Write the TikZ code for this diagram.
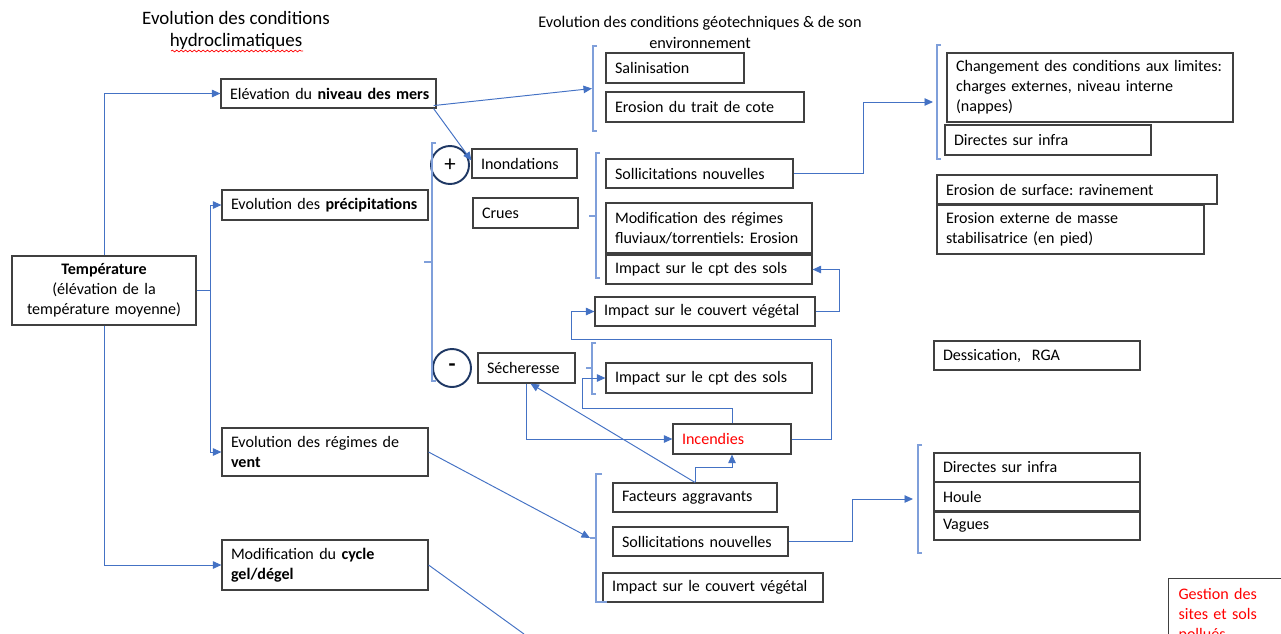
\documentclass[tikz,border=0pt]{standalone}
\usepackage{fontspec}
\setmainfont{Carlito}
\usetikzlibrary{arrows.meta,calc,decorations.pathmorphing}
\definecolor{cblue}{HTML}{4472C4}
\definecolor{cbrk}{HTML}{7F9FDA}
\definecolor{cbord}{HTML}{404040}
\definecolor{cnavy}{HTML}{1F3864}
\definecolor{cred}{HTML}{FF0000}
\frenchspacing
\newcommand\bodyfont{\fontsize{9.15}{11.3}\selectfont}
\tikzset{
 box/.style={draw=cbord, line width=0.65pt, rectangle, inner xsep=0.2cm, inner ysep=0pt, align=left, font=\bodyfont},
 link/.style={draw=cblue, line width=0.55pt},
 arr/.style={link, -{Triangle[length=0.17cm,width=0.15cm]}},
 brk/.style={draw=cbrk, line width=0.6pt},
 circ/.style={circle, draw=cnavy, line width=1.1pt, minimum size=0.76cm, inner sep=0pt, font=\fontsize{13}{13}\selectfont},
}
\newcommand\mybox[7][]{%
 \pgfmathsetmacro\mybw{(#4-#3)*0.02}%
 \pgfmathsetmacro\mybh{(#6-#5)*0.02}%
 \pgfmathsetmacro\mytw{(#4-#3-18)*0.02}%
 \node[box,inner xsep=0.18cm,minimum width=\mybw cm,minimum height=\mybh cm,text width=\mytw cm,#1] (#2) at ({(#3+#4)/2},{(#5+#6)/2}) {#7};}
\begin{document}
\begin{tikzpicture}[x=0.02cm,y=-0.02cm]
\useasboundingbox (0,0) rectangle (1281,633);
\begin{scope}
\clip (0,0) rectangle (1281,633);
% titles
\node[font=\fontsize{10.8}{13}\selectfont, align=center] (t1) at (236,30.5) {Evolution des conditions\\hydroclimatiques};
\draw[cred, line width=0.4pt, decorate, decoration={snake, amplitude=0.5pt, segment length=2.5pt}] (171,51) -- (303,51);
\node[font=\fontsize{9.25}{11.9}\selectfont, align=center] (t2) at (700,32.5) {Evolution des conditions géotechniques \& de son\\environnement};
% left column
\mybox[align=center]{temp}{12}{196}{256}{325}{\textbf{Température}\\(élévation de la\\température moyenne)}
\mybox{elev}{221}{436}{79}{108}{\mbox{Elévation du \textbf{niveau des mers}}}
\mybox{prec}{222}{428}{190}{220}{\mbox{Evolution des \textbf{précipitations}}}
\mybox{vent}{222}{428}{428}{476}{Evolution des régimes de\\\textbf{vent}}
\mybox{gel}{222}{428}{540}{590}{Modification du \textbf{cycle}\\\textbf{gel/dégel}}
% middle
\mybox{sal}{606}{744}{53}{83}{Salinisation}
\mybox{ero}{606}{804}{92}{122}{Erosion du trait de cote}
\mybox{inond}{472}{577}{149}{178}{Inondations}
\mybox{crues}{473}{578}{198}{228}{Crues}
\mybox{sech}{478}{575}{353}{383}{Sécheresse}
\mybox{solla}{606}{793}{159}{188}{Sollicitations nouvelles}
\mybox{modif}{606}{812}{203}{253}{Modification des régimes\\\mbox{fluviaux/torrentiels: Erosion}}
\mybox{cpta}{606}{812}{255}{284}{Impact sur le cpt des sols}
\mybox{couva}{595}{815}{297}{326}{Impact sur le couvert végétal}
\mybox{cptb}{606}{812}{363}{393}{Impact sur le cpt des sols}
\mybox[text=cred]{inc}{673}{791}{424}{454}{Incendies}
\mybox{fact}{613}{777}{483}{512}{Facteurs aggravants}
\mybox{sollb}{613}{788}{527}{556}{Sollicitations nouvelles}
\mybox{couvb}{603}{823}{573}{602}{Impact sur le couvert végétal}
% right
\mybox{chg}{947}{1233}{53}{122}{\mbox{Changement des conditions aux limites:}\\charges externes, niveau interne\\(nappes)}
\mybox{dira}{945}{1151}{125}{155}{Directes sur infra}
\mybox{surf}{937}{1217}{175}{204}{Erosion de surface: ravinement}
\mybox{ext}{937}{1204}{205}{254}{Erosion externe de masse\\stabilisatrice (en pied)}
\mybox{dess}{934}{1140}{341}{370}{Dessication,\ \ RGA}
\mybox{dirb}{934}{1140}{453}{482}{Directes sur infra}
\mybox{houle}{934}{1140}{482}{511}{Houle}
\mybox{vag}{934}{1140}{512}{540}{Vagues}
\node[box, text=cred, anchor=north west, text width=2.2cm, inner ysep=0.2cm] (gest) at (1168,578) {Gestion des\\sites et sols\\pollués};
% circles
\node[circ] (plus) at (450,165) {+};
\node[circ] (minus) at (452,368) {\textbf{-}};
% brackets
\draw[brk] (597,46) -- (593,46) -- (593,131) -- (597,131);
\coordinate (b1) at (592,88.5);
\draw[brk] (436,143) -- (432,143) -- (432,381) -- (436,381);
\draw[brk] (432,262) -- (424,262);
\draw[brk] (600,153) -- (596,153) -- (596,278) -- (600,278);
\draw[brk] (596,216) -- (589,216);
\draw[brk] (941,45) -- (937,45) -- (937,159) -- (941,159);
\coordinate (b3) at (933,102);
\draw[brk] (596,343) -- (592,343) -- (592,394) -- (596,394);
\draw[brk] (592,368) -- (586,368);
\draw[brk] (602,474) -- (596,474) -- (596,602) -- (607,602);
\draw[brk] (596,538) -- (590,538);
\coordinate (b5) at (590,538);
\draw[brk] (922,445) -- (918,445) -- (918,553) -- (922,553);
\coordinate (b6) at (913,499);
\coordinate (gelend) at (524,634);
% connectors
\draw[arr] (temp.north) |- (elev.west);
\coordinate (tj) at (210,290.5);
\draw[link] (temp.east) -- (tj);
\draw[link] (tj |- prec.west) -- (tj |- vent.west);
\draw[arr] (tj |- prec.west) -- (prec.west);
\draw[arr] (tj |- vent.west) -- (vent.west);
\draw[arr] (temp.south) |- (gel.west);
\draw[arr] ($(elev.south east)+(-3,-3)$) -- (b1);
\draw[arr] ($(elev.south east)+(-3,0)$) -- ($(inond.west)+(0,-3)$);
\draw[arr] (solla.east) -- ++(70,0) |- (b3);
\draw[arr] (couva.east) -- ++(24,0) |- (cpta.east);
\draw[arr] (inc.east) -- ++(40,0) |- (571,339) |- (couva.west);
\draw[arr] (inc.north) |- (582,408) |- (cptb.west);
\draw[arr] (sech.south) |- (inc.west);
\draw[arr] (fact.north) -- ($(sech.south)+(4,0)$);
\draw[arr] (fact.north) -- ++(0,-15) -| (inc.south);
\draw[arr] (vent.east) -- (b5);
\draw[arr] (sollb.east) -- ++(64,0) |- (b6);
\draw[link] (gel.east) -- (gelend);
\end{scope}
\end{tikzpicture}
\end{document}
